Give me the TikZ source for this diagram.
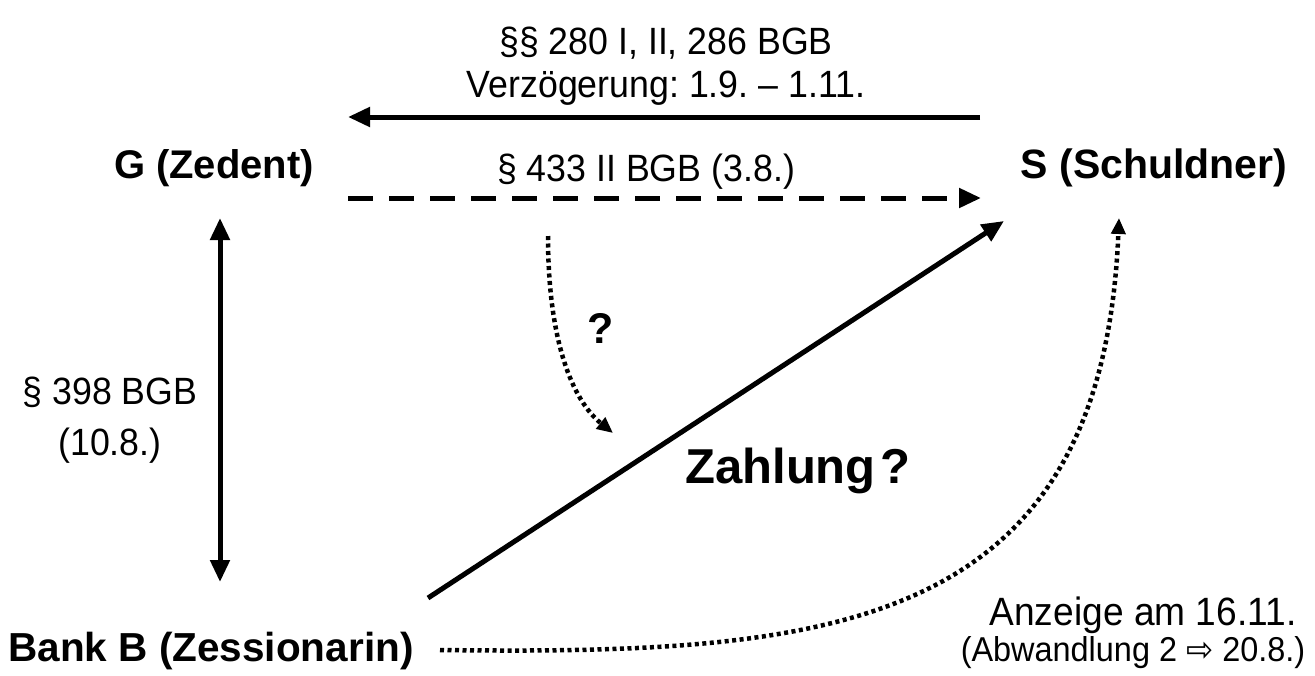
\documentclass[tikz,border=0pt]{standalone}
\usepackage{fontspec}
\setmainfont{Liberation Sans}
\newfontfamily\narrowfont{Liberation Sans}[FakeStretch=0.94]
\newfontfamily\symfont{DejaVu Sans}[FakeStretch=0.94]
\usetikzlibrary{arrows.meta}
\frenchspacing
\tikzset{
  reg/.style={inner sep=0pt, anchor=base, font=\narrowfont\fontsize{38}{42}\selectfont},
  boldlbl/.style={inner sep=0pt, anchor=base, font=\fontsize{40}{46}\selectfont\bfseries},
  bigarrow/.style={line width=5pt, -{Triangle[length=22pt,width=19pt]}},
  dblarrow/.style={line width=5pt, {Triangle[length=22pt,width=19pt]}-{Triangle[length=22pt,width=19pt]}},
  dasharrow/.style={line width=5pt, dash pattern=on 25pt off 16pt, -{Triangle[length=22pt,width=19pt]}},
  dotarrow/.style={line width=4.5pt, dash pattern=on 4pt off 3.5pt, -{Triangle[length=16pt,width=14pt]}},
}
\begin{document}
\begin{tikzpicture}[x=1pt,y=-1pt]
\useasboundingbox (0,0) rectangle (1315,675);
% labels
\node[reg] (l1) at (666,54) {§§ 280 I, II, 286 BGB};
\node[reg] (l2) at (666,97) {Verzögerung: 1.9. – 1.11.};
\node[boldlbl] (G) at (214,178) {G (Zedent)};
\node[boldlbl, font=\fontsize{41}{46}\selectfont\bfseries] (S) at (1154,178) {S (Schuldner)};
\node[reg] (l3) at (646,181) {§ 433 II BGB (3.8.)};
\node[reg] (l4) at (110,404) {§ 398 BGB};
\node[reg] (l5) at (110,455) {(10.8.)};
\node[inner sep=0pt, anchor=base, font=\fontsize{43}{48}\selectfont\bfseries] (q) at (601,343) {?};
\node[inner sep=0pt, anchor=base, font=\fontsize{49}{56}\selectfont\bfseries] (Z) at (798,483) {Zahlung\hspace{5pt}?};
\node[boldlbl, font=\fontsize{40.5}{46}\selectfont\bfseries] (B) at (211,661) {Bank B (Zessionarin)};
\node[reg, font=\narrowfont\fontsize{39.5}{42}\selectfont] (a1) at (1143,625) {Anzeige am 16.11.};
\node[reg, font=\narrowfont\fontsize{34.5}{38}\selectfont] (a2) at (1133,661) {(Abwandlung 2 {\symfont ⇨} 20.8.)};
% connector end points
\coordinate (top1) at (980,117);
\coordinate (top2) at (348,117);
\coordinate (d1) at (348,198);
\coordinate (d2) at (981,198);
\coordinate (v1) at (220,218);
\coordinate (v2) at (220,582);
\coordinate (z1) at (428,598);
\coordinate (z2) at (1004,221);
\coordinate (c1) at (548,236);
\coordinate (c2) at (613,433);
\coordinate (e1) at (440,650);
\coordinate (e2) at (1119,218);
% connectors
\draw[bigarrow] (top1) -- (top2);
\draw[dasharrow] (d1) -- (d2);
\draw[dblarrow] (v1) -- (v2);
\draw[bigarrow] (z1) -- (z2);
\draw[dotarrow] (c1) .. controls (548,340) and (572,400) .. (c2);
\draw[dotarrow] (e1) .. controls (830,655) and (1102,632) .. (e2);
\end{tikzpicture}
\end{document}
